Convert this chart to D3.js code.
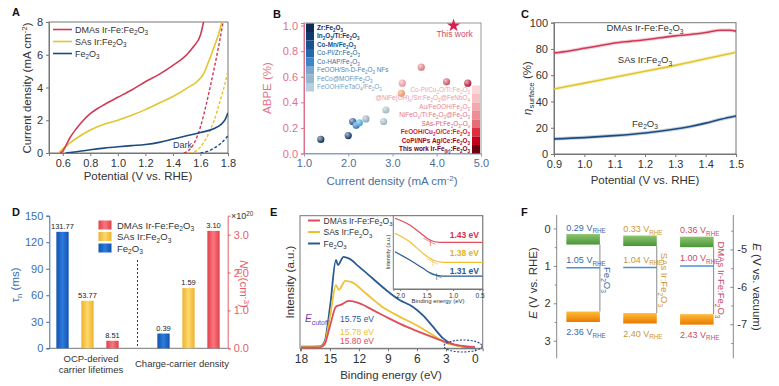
<!DOCTYPE html>
<head>
<meta charset="utf-8">
<script src="https://cdn.jsdelivr.net/npm/d3@7"></script>
<style>
  body { margin:0; background:#fff; }
  svg { font-family: "Liberation Sans", Arial, sans-serif; }
</style>
</head>
<body>
<script>
// ---------- data ----------
// A: LSV curves [potential V, current mA cm-2]
const lsvDmas = [[0.58,0],[0.6,0.1],[0.62,0.4],[0.65,0.9],[0.7,1.5],[0.75,2.0],[0.8,2.4],[0.85,2.7],[0.9,2.95],[1.0,3.4],[1.1,3.85],[1.2,4.35],[1.3,4.8],[1.4,5.35],[1.5,6.0],[1.55,6.5],[1.6,7.2],[1.63,8.3]];
const lsvSas = [[0.57,0],[0.6,0.25],[0.65,0.6],[0.7,0.9],[0.8,1.4],[0.9,1.75],[1.0,2.0],[1.1,2.3],[1.2,2.65],[1.3,3.05],[1.4,3.45],[1.5,3.95],[1.58,4.4],[1.62,4.8],[1.66,5.6],[1.7,6.5],[1.73,7.2],[1.765,8.3]];
const lsvFe = [[0.62,0],[0.7,0.08],[0.8,0.2],[0.9,0.3],[1.0,0.38],[1.1,0.45],[1.2,0.52],[1.3,0.65],[1.4,0.85],[1.5,1.05],[1.6,1.25],[1.7,1.5],[1.75,1.75],[1.78,2.05],[1.8,2.45]];
const darkDmas = [[1.48,0],[1.52,0.2],[1.56,0.7],[1.6,1.6],[1.64,2.9],[1.68,4.4],[1.72,6.0],[1.76,7.8],[1.77,8.3]];
const darkSas = [[1.52,0],[1.58,0.2],[1.62,0.6],[1.66,1.2],[1.7,2.0],[1.74,3.1],[1.78,4.3],[1.8,5.0]];
const darkFe = [[1.6,0],[1.65,0.1],[1.7,0.3],[1.75,0.6],[1.8,1.05]];
const aTicksX = [0.6,0.8,1.0,1.2,1.4,1.6,1.8];
const aTicksY = [0,2,4,6,8];

// B: ABPE vs current density
const refBlueNames = ["Zr:Fe_{2}O_{3}","In_{2}O_{3}/Ti:Fe_{2}O_{3}","Co-Mn/Fe_{2}O_{3}","Co-Pi/Zr:Fe_{2}O_{3}","Co-HAP/Fe_{2}O_{3}","FeOOH/Sn-D-Fe_{2}O_{3} NFs","FeCo@MOF/Fe_{2}O_{3}","FeOOH/FeTaO_{4}/Fe_{2}O_{3}"];
const refBlueJ = [1.38,2.0,2.1,2.18,2.25,2.4,2.8,2.85];
const refBlueE = [0.11,0.14,0.25,0.22,0.24,0.27,0.25,0.34];
const refRedNames = ["Co-Pi/Cu_{2}O/Ti:Fe_{2}O_{3}","@NiFe(OH)_{x}/Sn:Fe_{2}O_{3}@FeNbO_{4}","Au/FeOOH/Fe_{2}O_{3}","NiFeO_{x}/Ti:Fe_{2}O_{3}@Fe_{2}O_{3}","SAs-Pt:Fe_{2}O_{3}-O_{v}","FeOOH/Cu_{2}O/Ce:Fe_{2}O_{3}","CoPi/NPs Ag/Ce:Fe_{2}O_{3}","This work Ir-Fe_{(Ir)}:Fe_{2}O_{3}"];
const refRedJ = [3.2,3.22,3.65,4.22,4.7];
const refRedE = [0.47,0.55,0.675,0.56,0.55];
const thisWork = [4.38,1.0];
const bTicksX = [1,2,3,4,5];
const bTicksY = [0,0.2,0.4,0.6,0.8,1.0];

// C: surface efficiency
const etaDmas = [[0.9,77],[0.95,78.5],[1.0,80.5],[1.05,82.5],[1.1,84.5],[1.15,85.8],[1.2,87],[1.25,88.5],[1.3,90],[1.35,91],[1.4,92.5],[1.45,94.3],[1.48,94.2],[1.5,93.6]];
const etaSas = [[0.9,49.5],[1.0,54],[1.1,58.5],[1.2,63],[1.3,67.5],[1.4,72.5],[1.5,77.5]];
const etaFe = [[0.9,11.5],[1.0,12.5],[1.1,14],[1.2,16],[1.3,19],[1.35,21],[1.4,23.5],[1.45,26.5],[1.5,29]];
const cTicksX = [0.9,1.0,1.1,1.2,1.3,1.4,1.5];
const cTicksY = [0,20,40,60,80,100];

// D: bars
const dGroups = ["OCP-derived carrier lifetimes","Charge-carrier density"];
const dSeries = ["Fe_{2}O_{3}","SAs Ir:Fe_{2}O_{3}","DMAs Ir-Fe:Fe_{2}O_{3}"];
const lifetimes = [131.77,53.77,8.51];
const donorDensity = [0.39,1.59,3.10];
const dTicksL = [0,30,60,90,120,150];
const dTicksR = [0,1,2,3];

// E: UPS spectra [binding energy eV, intensity a.u.]
const upsFe = [[18,1.3],[16,1.5],[15.55,5],[14.97,32.7],[14.38,66.6],[14.17,62.8],[13.6,69],[13.05,67.8],[12.0,61.6],[10.6,52.8],[9.2,44],[7.8,36.4],[6.44,31.4],[5.4,25],[4.35,16.3],[3.3,7.5],[2.26,3],[1.2,1.3],[0,0.5]];
const upsSas = [[18,0.8],[16,1],[15.55,3.8],[14.97,25],[14.38,47.7],[14.1,44],[13.4,50.8],[12.7,49.7],[11.3,41.5],[9.6,31.4],[7.8,23.9],[6.1,17.6],[4.35,10],[2.96,3.8],[1.9,2],[0,1]];
const upsDmas = [[18,0.5],[16,0.7],[15.55,3],[14.97,17.6],[14.38,31.4],[13.9,32.7],[13.05,35.7],[12.0,34],[10.6,29],[8.9,22.6],[7.1,16.3],[5.4,11.3],[3.65,6.3],[2.26,3],[0,1]];
const eTicksX = [18,15,12,9,6,3,0];
const insetDmas = [[2.1,96.5],[1.82,87.3],[1.57,73.7],[1.44,66.8],[1.25,63.7],[0.44,63.7]];
const insetSas = [[2.1,76],[1.82,64.5],[1.57,48.7],[1.38,39.6],[1.19,36.4],[0.44,36.4]];
const insetFe = [[2.1,50.9],[1.82,39.6],[1.57,28.2],[1.38,20],[1.19,17.7],[0.44,17.7]];
const insetTicks = [2.0,1.5,1.0,0.5];
const vbEdge = [1.31,1.38,1.43];
const cutoffs = ["15.75 eV","15.78 eV","15.80 eV"];

// F: band positions (V vs RHE)
const fSamples = ["Fe_{2}O_{3}","SAs Ir:Fe_{2}O_{3}","DMAs Ir-Fe:Fe_{2}O_{3}"];
const cbPos = [0.29,0.33,0.36];
const efPos = [1.05,1.04,1.00];
const vbPos = [2.36,2.40,2.43];
const fTicksL = [0,1,2,3];
const fTicksR = [-5,-6,-7];

// ---------- helpers ----------
const W = 779, H = 386;
const svg = d3.select("body").append("svg").attr("width", W).attr("height", H);
const defs = svg.append("defs");
const cRed = "#cf3a57", cYel = "#e2c52c", cBlu = "#1d4b7f";
const axisGray = "#777", txt = "#333";

// text with _{sub} ^{sup} *{italic}
function rich(sel, str, fs) {
  const re = /([_^*])\{([^}]*)\}|([^_^*{}]+)/g;
  let m, shift = 0;
  while ((m = re.exec(str)) !== null) {
    if (m[3] !== undefined) {
      sel.append("tspan").attr("dy", -shift).text(m[3]); shift = 0;
    } else if (m[1] === "*") {
      sel.append("tspan").attr("dy", -shift).style("font-style", "italic").text(m[2]); shift = 0;
    } else {
      const s = m[1] === "_" ? fs * 0.28 : -fs * 0.38;
      sel.append("tspan").attr("dy", s - shift).style("font-size", (fs * 0.7) + "px").text(m[2]);
      shift = s;
    }
  }
  return sel;
}
function label(g, x, y, str, fs, o = {}) {
  const t = g.append("text").attr("x", x).attr("y", y)
    .style("font-size", fs + "px").attr("fill", o.fill || txt)
    .attr("text-anchor", o.anchor || "start");
  if (o.rotate) t.attr("transform", `rotate(${o.rotate},${x},${y})`);
  if (o.weight) t.style("font-weight", o.weight);
  return rich(t, str, fs);
}
function styleAxis(ax, stroke, fill, fs) {
  ax.attr("font-family", null).attr("font-size", null);
  ax.select(".domain").attr("stroke", stroke);
  ax.selectAll(".tick line").attr("stroke", stroke);
  ax.selectAll(".tick text").attr("fill", fill).style("font-size", fs + "px");
  return ax;
}
function clip(id, x0, y0, x1, y1) {
  defs.append("clipPath").attr("id", id).append("rect")
    .attr("x", x0).attr("y", y0).attr("width", x1 - x0).attr("height", y1 - y0);
}
function frame(g, x0, y0, x1, y1, c) {
  g.append("rect").attr("x", x0).attr("y", y0).attr("width", x1 - x0).attr("height", y1 - y0)
    .attr("fill", "none").attr("stroke", c || axisGray);
}
function panelTag(t, x, y) {
  svg.append("text").attr("x", x).attr("y", y).text(t)
    .style("font-size", "11px").style("font-weight", "bold").attr("fill", "#111");
}

// ---------- A ----------
{
  const g = svg.append("g");
  const x = d3.scaleLinear().domain([0.5, 1.8]).range([49, 228]);
  const y = d3.scaleLinear().domain([0, 8]).range([153, 22]);
  clip("clipA", 49, 22, 228, 153);
  frame(g, 49, 22, 228, 153);
  styleAxis(g.append("g").attr("transform", "translate(0,153)")
    .call(d3.axisBottom(x).tickValues(aTicksX).tickFormat(d3.format(".1f")).tickSize(3)), axisGray, txt, 11);
  styleAxis(g.append("g").attr("transform", "translate(49,0)")
    .call(d3.axisLeft(y).tickValues(aTicksY).tickSize(3)), axisGray, txt, 11);
  const line = d3.line().x(d => x(d[0])).y(d => y(d[1])).curve(d3.curveMonotoneX);
  const lines = g.append("g").attr("clip-path", "url(#clipA)");
  [[darkFe, cBlu], [darkSas, cYel], [darkDmas, cRed]].forEach(([d, c]) =>
    lines.append("path").attr("d", line(d)).attr("fill", "none").attr("stroke", c)
      .attr("stroke-width", 1.4).attr("stroke-dasharray", "3,2"));
  [[lsvFe, cBlu], [lsvSas, cYel], [lsvDmas, cRed]].forEach(([d, c]) =>
    lines.append("path").attr("d", line(d)).attr("fill", "none").attr("stroke", c).attr("stroke-width", 1.6));
  label(g, 173, 148, "Dark", 9, { fill: "#2a3f66" });
  [["DMAs Ir-Fe:Fe_{2}O_{3}", cRed], ["SAs Ir:Fe_{2}O_{3}", cYel], ["Fe_{2}O_{3}", cBlu]].forEach(([n, c], i) => {
    const yy = 29.5 + i * 12;
    g.append("line").attr("x1", 53).attr("x2", 72).attr("y1", yy).attr("y2", yy).attr("stroke", c).attr("stroke-width", 1.6);
    label(g, 75, yy + 3.2, n, 9);
  });
  label(g, 138, 180, "Potential (V vs. RHE)", 11.5, { anchor: "middle" });
  label(g, 31, 88, "Current density (mA cm^{-2})", 11.5, { anchor: "middle", rotate: -90 });
  panelTag("A", 12, 16);
}

// ---------- B ----------
{
  const g = svg.append("g");
  const x = d3.scaleLinear().domain([1, 5]).range([304, 481]);
  const y = d3.scaleLinear().domain([0, 1.02]).range([153.5, 23]);
  const pink = "#e2708a", bxl = "#4f6e98";
  frame(g, 304, 23, 481, 153.5, "#999");
  styleAxis(g.append("g").attr("transform", "translate(0,153.5)")
    .call(d3.axisBottom(x).tickValues(bTicksX).tickSize(3)), "#8fa2bd", bxl, 11);
  styleAxis(g.append("g").attr("transform", "translate(304,0)")
    .call(d3.axisLeft(y).tickValues(bTicksY).tickFormat(d3.format(".1f")).tickSize(3)), pink, pink, 11);

  const blueCols = ["#0e2c55","#123a6c","#18528f","#2468a9","#3a86c8","#79a7cf","#98b6cc","#b7cde0"];
  const blueTxt = ["#0e2c55","#123a6c","#18528f","#2a5f95","#3a6c9f","#5582b0","#6a92ba","#7ea2c6"];
  const redCols = ["#fbd6d9","#f7c1c5","#f3a9af","#ee8e96","#e66c77","#df2f3d","#c3001b","#6e0010"];
  const redTxt = ["#f0a5ac","#ec99a0","#e88890","#e27882","#d95f6b","#d01f30","#aa0018","#6e0010"];
  const ptBlue = ["#0e2c55","#102f62","#1b4f8a","#2a73b8","#3aa0dc","#8aa7b8","#9fb2bd","#9ab8c0"];
  const ptRed = ["#eb8c58","#e9949a","#d9787f","#c94c5e","#b1122f"];

  function sphere(id, c) {
    const gr = defs.append("radialGradient").attr("id", id).attr("cx", "35%").attr("cy", "32%").attr("r", "70%");
    gr.append("stop").attr("offset", "0%").attr("stop-color", d3.interpolateRgb(c, "#fff")(0.65));
    gr.append("stop").attr("offset", "100%").attr("stop-color", c);
  }
  refBlueJ.forEach((j, i) => {
    sphere("sb" + i, ptBlue[i]);
    g.append("circle").attr("cx", x(j)).attr("cy", y(refBlueE[i])).attr("r", 3.6).attr("fill", `url(#sb${i})`);
  });
  refRedJ.forEach((j, i) => {
    sphere("sr" + i, ptRed[i]);
    g.append("circle").attr("cx", x(j)).attr("cy", y(refRedE[i])).attr("r", 3.6).attr("fill", `url(#sr${i})`);
  });
  g.append("path").attr("d", d3.symbol(d3.symbolStar).size(55)())
    .attr("transform", `translate(${x(thisWork[0])},${y(thisWork[1])})`).attr("fill", "#d81f50");
  label(g, x(thisWork[0]) + 1, 37, "This work", 8.5, { anchor: "middle", fill: "#d24a68" });

  // blue legend column
  const rh = 8.5;
  refBlueNames.forEach((n, i) => {
    g.append("rect").attr("x", 306).attr("y", 23.5 + i * rh).attr("width", 8).attr("height", rh).attr("fill", blueCols[i]);
    label(g, 317, 23.5 + i * rh + 6.3, n, 6.4, { fill: blueTxt[i], weight: i < 3 ? "bold" : null });
  });
  // red legend column
  refRedNames.forEach((n, i) => {
    g.append("rect").attr("x", 472).attr("y", 85.5 + i * rh).attr("width", 8).attr("height", rh).attr("fill", redCols[i]);
    label(g, 470, 85.5 + i * rh + 6.3, n, 6.4, { fill: redTxt[i], anchor: "end", weight: i > 4 ? "bold" : null });
  });
  label(g, 392, 185, "Current density (mA cm^{-2})", 11.5, { anchor: "middle", fill: bxl });
  label(g, 271, 88, "ABPE (%)", 11.5, { anchor: "middle", rotate: -90, fill: pink });
  panelTag("B", 273, 18);
}

// ---------- C ----------
{
  const g = svg.append("g");
  const x = d3.scaleLinear().domain([0.9, 1.5]).range([554, 736]);
  const y = d3.scaleLinear().domain([0, 100]).range([154, 22.7]);
  frame(g, 554, 22.7, 736, 154);
  styleAxis(g.append("g").attr("transform", "translate(0,154)")
    .call(d3.axisBottom(x).tickValues(cTicksX).tickFormat(d3.format(".1f")).tickSize(3)), axisGray, txt, 11);
  styleAxis(g.append("g").attr("transform", "translate(554,0)")
    .call(d3.axisLeft(y).tickValues(cTicksY).tickSize(3)), axisGray, txt, 11);
  const line = d3.line().x(d => x(d[0])).y(d => y(d[1])).curve(d3.curveMonotoneX);
  [[etaFe, cBlu], [etaSas, cYel], [etaDmas, cRed]].forEach(([d, c]) => {
    g.append("path").attr("d", line(d)).attr("fill", "none").attr("stroke", c).attr("stroke-width", 3.5).attr("opacity", 0.25);
    g.append("path").attr("d", line(d)).attr("fill", "none").attr("stroke", c).attr("stroke-width", 1.6);
  });
  label(g, 645, 31, "DMAs Ir-Fe:Fe_{2}O_{3}", 9.5, { anchor: "middle" });
  label(g, 645, 63, "SAs Ir:Fe_{2}O_{3}", 9.5, { anchor: "middle" });
  label(g, 645, 126.5, "Fe_{2}O_{3}", 9.5, { anchor: "middle" });
  label(g, 645, 184, "Potential (V vs. RHE)", 11.5, { anchor: "middle" });
  label(g, 531, 88, "*{η}_{surface} (%)", 11.5, { anchor: "middle", rotate: -90 });
  panelTag("C", 521, 18);
}

// ---------- D ----------
{
  const g = svg.append("g");
  const blueAx = "#3b6db0", redAx = "#e45f6a";
  const yL = d3.scaleLinear().domain([0, 150]).range([348.3, 215.7]);
  const yR = d3.scaleLinear().domain([0, 3.5]).range([348.3, 215.7]);
  const x0 = d3.scaleBand().domain(dGroups).range([37, 239]);
  const x1 = d3.scaleBand().domain(dSeries).range([-31.15, 31.15]).paddingInner(0.508);
  const barCols = [["#1552ad","#2b7be0"],["#eeb22f","#fcd96c"],["#e1404a","#f9777e"]];
  barCols.forEach(([a, b], i) => {
    const gr = defs.append("linearGradient").attr("id", "bar" + i);
    gr.append("stop").attr("offset", "0%").attr("stop-color", a);
    gr.append("stop").attr("offset", "50%").attr("stop-color", b);
    gr.append("stop").attr("offset", "100%").attr("stop-color", a);
  });
  g.append("line").attr("x1", 49.3).attr("x2", 227.7).attr("y1", 348.3).attr("y2", 348.3).attr("stroke", axisGray);
  styleAxis(g.append("g").attr("transform", "translate(49.3,0)")
    .call(d3.axisLeft(yL).tickValues(dTicksL).tickSize(3)), blueAx, blueAx, 11);
  styleAxis(g.append("g").attr("transform", "translate(227.7,0)")
    .call(d3.axisRight(yR).tickValues(dTicksR).tickSize(3)), redAx, redAx, 11);
  const fmt = d3.format(".2f");
  [[lifetimes, yL], [donorDensity, yR]].forEach(([vals, sc], gi) => {
    const cx = x0(dGroups[gi]) + x0.bandwidth() / 2;
    vals.forEach((v, i) => {
      const bx = cx + x1(dSeries[i]);
      g.append("rect").attr("x", bx).attr("y", sc(v)).attr("width", x1.bandwidth())
        .attr("height", 348.3 - sc(v)).attr("fill", `url(#bar${i})`);
      label(g, bx + x1.bandwidth() / 2, sc(v) - 3, fmt(v), 7.5, { anchor: "middle", fill: "#222" });
    });
  });
  g.append("line").attr("x1", 137.5).attr("x2", 137.5).attr("y1", 260).attr("y2", 348)
    .attr("stroke", "#333").attr("stroke-dasharray", "2,2");
  [2, 1, 0].forEach((si, k) => {
    const yy = 220.5 + k * 11.5;
    g.append("rect").attr("x", 98.5).attr("y", yy).attr("width", 13).attr("height", 9).attr("fill", `url(#bar${si})`);
    label(g, 117, yy + 8, dSeries[si], 9.5);
  });
  label(g, 91, 362, "OCP-derived", 9.5, { anchor: "middle" });
  label(g, 91, 372.5, "carrier lifetimes", 9.5, { anchor: "middle" });
  label(g, 182, 367, "Charge-carrier density", 9.5, { anchor: "middle" });
  label(g, 231, 219, "×10^{20}", 9, { fill: "#333" });
  label(g, 19, 285, "τ_{n} (ms)", 11.5, { anchor: "middle", rotate: -90, fill: blueAx });
  label(g, 240, 284, "*{N}_{D} (cm^{-3})", 11.5, { anchor: "middle", rotate: 90, fill: redAx });
  panelTag("D", 12, 216);
}

// ---------- E ----------
{
  const g = svg.append("g");
  const cR = "#de4d5c", cY = "#f0c031", cB = "#2b5b92";
  const x = d3.scaleLinear().domain([18.1, -0.8]).range([300, 482.7]);
  const y = d3.scaleLinear().domain([0, 100]).range([348.3, 215.7]);
  frame(g, 300, 215.7, 482.7, 348.3);
  styleAxis(g.append("g").attr("transform", "translate(0,348.3)")
    .call(d3.axisBottom(x).tickValues(eTicksX).tickSize(3)), axisGray, txt, 12);
  const line = d3.line().x(d => x(d[0])).y(d => y(d[1])).curve(d3.curveMonotoneX);
  [[upsFe, cB], [upsSas, cY], [upsDmas, cR]].forEach(([d, c]) =>
    g.append("path").attr("d", line(d)).attr("fill", "none").attr("stroke", c).attr("stroke-width", 1.8));
  g.append("ellipse").attr("cx", 463).attr("cy", 346).attr("rx", 19).attr("ry", 6)
    .attr("fill", "none").attr("stroke", "#2a4a90").attr("stroke-width", 1.1).attr("stroke-dasharray", "2,1.5");
  label(g, 305, 322, "*{E}_{cutoff}", 10, { fill: "#7a3cab" });
  [cB, cY, cR].forEach((c, i) => label(g, 340, 321.5 + [0, 13, 22.5][i], cutoffs[i], 8.5, { fill: c }));

  // inset
  const xi = d3.scaleLinear().domain([2.13, 0.44]).range([393.3, 482.7]);
  const yi = d3.scaleLinear().domain([0, 100]).range([289, 215.7]);
  g.append("rect").attr("x", 393.3).attr("y", 215.7).attr("width", 89.4).attr("height", 73.3)
    .attr("fill", "#fff").attr("stroke", axisGray);
  styleAxis(g.append("g").attr("transform", "translate(0,289)")
    .call(d3.axisBottom(xi).tickValues(insetTicks).tickFormat(d3.format(".1f")).tickSize(2).tickPadding(2)), axisGray, txt, 6.5);
  const li = d3.line().x(d => xi(d[0])).y(d => yi(d[1])).curve(d3.curveMonotoneX);
  [[insetDmas, cR], [insetSas, cY], [insetFe, cB]].forEach(([d, c], i) => {
    g.append("path").attr("d", li(d)).attr("fill", "none").attr("stroke", c).attr("stroke-width", 1.2);
    const ex = xi(vbEdge[2 - i]), ey = yi(d[d.length - 1][1]);
    g.append("line").attr("x1", ex - 7).attr("x2", ex + 5).attr("y1", ey - 4).attr("y2", ey + 2)
      .attr("stroke", c).attr("opacity", 0.6);
    g.append("line").attr("x1", ex).attr("x2", ex).attr("y1", ey - 3).attr("y2", ey + 4)
      .attr("stroke", c).attr("opacity", 0.6);
  });
  label(g, 479, 238, "1.43 eV", 8.5, { anchor: "end", fill: "#d23444", weight: "bold" });
  label(g, 479, 256, "1.38 eV", 8.5, { anchor: "end", fill: "#e2b324", weight: "bold" });
  label(g, 479, 273.5, "1.31 eV", 8.5, { anchor: "end", fill: "#2b5b92", weight: "bold" });
  label(g, 438, 303, "Binding energy (eV)", 6, { anchor: "middle" });
  label(g, 390, 252, "Intensity (a.u.)", 5.5, { anchor: "middle", rotate: -90 });

  // legend drawn over the inset edge
  [["DMAs Ir-Fe:Fe_{2}O_{3}", cR], ["SAs Ir:Fe_{2}O_{3}", cY], ["Fe_{2}O_{3}", cB]].forEach(([n, c], i) => {
    const yy = 220.5 + i * 11.5;
    g.append("line").attr("x1", 308).attr("x2", 320).attr("y1", yy).attr("y2", yy).attr("stroke", c).attr("stroke-width", 2);
    label(g, 323.5, yy + 3.2, n, 8.5);
  });

  label(g, 391, 379, "Binding energy (eV)", 11.5, { anchor: "middle" });
  label(g, 294, 282, "Intensity (a.u.)", 11.5, { anchor: "middle", rotate: -90 });
  panelTag("E", 270, 216);
}

// ---------- F ----------
{
  const g = svg.append("g");
  const y = d3.scaleLinear().domain([-0.36, 3.47]).range([215, 358.3]);
  const yv = d3.scaleLinear().domain([-4.44 + 0.36, -4.44 - 3.47]).range([215, 358.3]);
  const x = d3.scaleBand().domain(fSamples).range([555, 725]).paddingInner(0.41).paddingOuter(0.2);
  const cols = ["#3b6aa8", "#c9963d", "#c94b6b"];
  const gg = defs.append("linearGradient").attr("id", "gCB").attr("x1", 0).attr("x2", 0).attr("y1", 0).attr("y2", 1);
  gg.append("stop").attr("offset", "0%").attr("stop-color", "#8cc46e");
  gg.append("stop").attr("offset", "100%").attr("stop-color", "#4a9538");
  const go = defs.append("linearGradient").attr("id", "gVB").attr("x1", 0).attr("x2", 0).attr("y1", 0).attr("y2", 1);
  go.append("stop").attr("offset", "0%").attr("stop-color", "#ffbd3a");
  go.append("stop").attr("offset", "100%").attr("stop-color", "#e87900");

  const axL = styleAxis(g.append("g").attr("transform", "translate(556.7,0)")
    .call(d3.axisLeft(y).tickValues(fTicksL).tickFormat(d3.format("d")).tickSize(3).tickSizeOuter(0)), "#888", txt, 11);
  axL.select(".domain").attr("d", "M0,215V358.3");
  g.append("g").attr("transform", "translate(556.7,0)")
    .call(d3.axisLeft(y).tickValues([0.5, 1.5, 2.5]).tickSize(2).tickFormat(""))
    .call(a => { a.select(".domain").remove(); a.selectAll("line").attr("stroke", "#888"); });
  const axR = styleAxis(g.append("g").attr("transform", "translate(733.3,0)")
    .call(d3.axisRight(yv).tickValues(fTicksR).tickSize(-3).tickPadding(4).tickSizeOuter(0).tickFormat(d => "-" + (-d))), "#888", txt, 11);
  axR.select(".domain").attr("d", "M0,215V358.3");
  g.append("g").attr("transform", "translate(733.3,0)")
    .call(d3.axisRight(yv).tickValues([-4.5, -5.5, -6.5, -7.5]).tickSize(-2).tickFormat(""))
    .call(a => { a.select(".domain").remove(); a.selectAll("line").attr("stroke", "#888"); });

  const h = 0.14;
  fSamples.forEach((s, i) => {
    const x0 = x(s), bw = x.bandwidth(), c = cols[i];
    g.append("line").attr("x1", x0 + bw).attr("x2", x0 + bw).attr("y1", y(cbPos[i] + h)).attr("y2", y(vbPos[i] - h))
      .attr("stroke", "#8a8a8a").attr("stroke-width", 1);
    g.append("rect").attr("x", x0).attr("y", y(cbPos[i] - h)).attr("width", bw).attr("height", y(cbPos[i] + h) - y(cbPos[i] - h)).attr("fill", "url(#gCB)");
    g.append("rect").attr("x", x0).attr("y", y(vbPos[i] - h)).attr("width", bw).attr("height", y(vbPos[i] + h) - y(vbPos[i] - h)).attr("fill", "url(#gVB)");
    g.append("line").attr("x1", x0).attr("x2", x0 + bw).attr("y1", y(efPos[i])).attr("y2", y(efPos[i]))
      .attr("stroke", "#4c8fd6").attr("stroke-width", 1.5);
    label(g, x0, y(cbPos[i] - h) - 3.5, d3.format(".2f")(cbPos[i]) + " V_{RHE}", 9, { fill: c });
    label(g, x0, y(efPos[i]) - 4.5, d3.format(".2f")(efPos[i]) + " V_{RHE}", 9, { fill: c });
    label(g, x0, y(vbPos[i] + h) + 13, d3.format(".2f")(vbPos[i]) + " V_{RHE}", 9, { fill: c });
    label(g, x0 + bw + 4, 280, s, 9.5, { fill: c, anchor: "middle", rotate: 90 });
  });
  label(g, 537, 283, "*{E} (V vs. RHE)", 11.5, { anchor: "middle", rotate: -90 });
  label(g, 753, 287, "*{E} (V vs. vacuum)", 11.5, { anchor: "middle", rotate: 90 });
  panelTag("F", 521, 216);
}
</script>
</body>
